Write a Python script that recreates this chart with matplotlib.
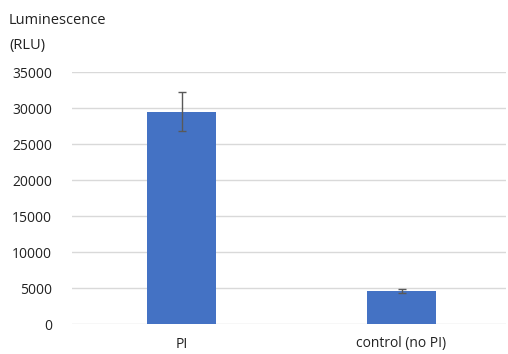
import matplotlib
matplotlib.use('Agg')
import matplotlib.pyplot as plt
import numpy as np

# Data
categories = ['PI', 'control (no PI)']
values = [29500, 4550]
errors = [2700, 250]
yticks = [0, 5000, 10000, 15000, 20000, 25000, 30000, 35000]

plt.rcParams['font.family'] = ['Open Sans', 'DejaVu Sans']

W, H = 508, 354
fig = plt.figure(figsize=(W / 100, H / 100), dpi=100)
ax = fig.add_axes([71.5 / W, 30 / H, (506 - 71.5) / W, 252 / H])

x = np.arange(len(categories))
ax.bar(x, values, width=0.31, color='#4472c4', zorder=2)
ax.errorbar(x, values, yerr=errors, fmt='none', ecolor='#595959',
            elinewidth=1, capsize=3, capthick=1, zorder=3)

ax.set_ylim(0, 35000)
ax.set_xlim(-0.5, 1.475)
ax.set_yticks(yticks)
ax.set_yticklabels([str(v) for v in yticks], fontsize=10)
ax.set_xticks(x)
ax.set_xticklabels(categories, fontsize=10)
ax.tick_params(axis='both', length=0, colors='#222222')
ax.tick_params(axis='y', pad=14)
ax.tick_params(axis='x', pad=9)
ax.grid(axis='y', color='#d9d9d9', linewidth=1, zorder=0)
for s in ax.spines.values():
    s.set_visible(False)

fig.text(9 / W, 1 - 20 / H, 'Luminescence', fontsize=10.5, va='center', ha='left', color='#222222')
fig.text(9 / W, 1 - 45 / H, '(RLU)', fontsize=10.5, va='center', ha='left', color='#222222')

fig.savefig('out.png', dpi=100, facecolor='white')
